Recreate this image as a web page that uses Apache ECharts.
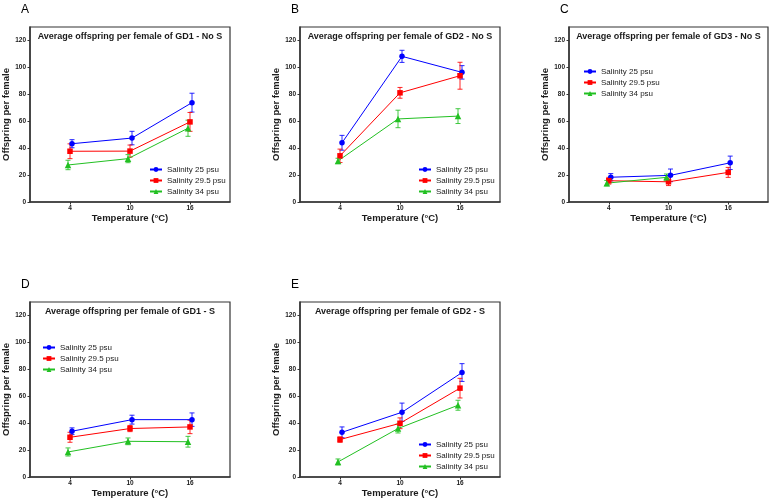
<!DOCTYPE html>
<html><head><meta charset="utf-8">
<script src="https://cdn.jsdelivr.net/npm/echarts@6/dist/echarts.min.js"></script>
<style>html,body{margin:0;padding:0;background:#fff}#c{width:772px;height:502px}</style>
</head><body><div id="c"></div>
<script>
// ---------- data ----------
const temperatures = [4, 10, 16];
const salinities = ['Salinity 25 psu', 'Salinity 29.5 psu', 'Salinity 34 psu'];
const panelLetters = ['A', 'B', 'C', 'D', 'E'];
const panelTitles = [
  'Average offspring per female of GD1 - No S',
  'Average offspring per female of GD2 - No S',
  'Average offspring per female of GD3 - No S',
  'Average offspring per female of GD1 - S',
  'Average offspring per female of GD2 - S'
];
const xTickValues = [4, 10, 16];
const yTickValues = [0, 20, 40, 60, 80, 100, 120];
const xAxisTitle = 'Temperature (°C)';
const yAxisTitle = 'Offspring per female';

// rows: salinity 25, 29.5, 34 psu ; columns: 4, 10, 16 °C
const meanA = [[43.3, 47.5, 73.8], [37.7, 37.8, 59.5], [27.5, 32.2, 54.8]];
const errA  = [[3, 5, 7], [5.5, 4.5, 7], [3.5, 3, 6]];
const meanB = [[44, 108.2, 96.3], [34.3, 81.1, 93.8], [30.5, 61.7, 63.8]];
const errB  = [[5.5, 4.5, 5], [5, 4, 10], [2, 6.5, 5.5]];
const meanC = [[18.4, 19.8, 29.1], [15.8, 15, 22], [14, 18.3, null]];
const errC  = [[2.7, 4.7, 5], [2.5, 2.8, 3.7], [2, 2.5, null]];
const meanD = [[34, 42.6, 42.6], [29.5, 36, 37.2], [18.6, 26.5, 26.2]];
const errD  = [[2.5, 3.3, 5], [3.7, 2.3, 5], [3, 2.5, 4]];
const meanE = [[33.2, 48.1, 77.6], [27.8, 39.9, 66], [11.2, 36, 53.3]];
const errE  = [[4, 6.8, 6.6], [2, 4, 7.3], [2.2, 3.3, 3.7]];

const means = [meanA, meanB, meanC, meanD, meanE];
const errs = [errA, errB, errC, errD, errE];

// ---------- layout & style ----------
const grids = [
  {left: 30, top: 27, width: 200, height: 175},
  {left: 300, top: 27, width: 200, height: 175},
  {left: 569, top: 27, width: 199, height: 175},
  {left: 30, top: 302, width: 200, height: 175},
  {left: 300, top: 302, width: 200, height: 175}
];
const legendPos = [
  {left: 149, top: 165},
  {left: 418, top: 165},
  {left: 583, top: 67},
  {left: 42, top: 343},
  {left: 418, top: 440}
];
const colors = ['#0000ff', '#ff0000', '#22c022'];
const symbols = ['circle', 'rect', 'triangle'];
const symbolSizes = [5.5, 5.5, 6.5];
const dodge = [0.2, 0, -0.2];
const FONT = '"Liberation Sans", Arial, sans-serif';
const axisColor = '#333';
const textColor = '#1a1a1a';

const option = {
  animation: false,
  backgroundColor: '#fff',
  textStyle: {fontFamily: FONT},
  grid: [], xAxis: [], yAxis: [], series: [], legend: [], title: []
};

grids.forEach((g, i) => {
  option.grid.push(Object.assign({show: true, borderColor: axisColor, borderWidth: 1.2, backgroundColor: 'transparent'}, g));
  option.title.push({
    text: panelLetters[i], left: g.left - 9, top: g.top - 23,
    textStyle: {fontFamily: FONT, fontSize: 12, fontWeight: 'normal', color: '#000'}, padding: 0
  });
  option.title.push({
    text: panelTitles[i], left: g.left + g.width / 2, top: g.top + 5, textAlign: 'center',
    textStyle: {fontFamily: FONT, fontSize: 9, fontWeight: 'bold', color: textColor}, padding: 0
  });
  option.xAxis.push({
    type: 'value', gridIndex: i, min: 0, max: 20,
    axisLine: {show: true, onZero: false, lineStyle: {color: axisColor, width: 1.5}},
    axisTick: {show: true, customValues: xTickValues, length: 2.5, lineStyle: {color: axisColor}},
    axisLabel: {customValues: xTickValues, fontFamily: FONT, fontSize: 6.5, fontWeight: 'bold', color: textColor, margin: 3},
    splitLine: {show: false},
    name: xAxisTitle, nameLocation: 'middle', nameGap: 11,
    nameTextStyle: {fontFamily: FONT, fontSize: 9.5, fontWeight: 'bold', color: textColor}
  });
  option.yAxis.push({
    type: 'value', gridIndex: i, min: 0, max: 130,
    axisLine: {show: true, onZero: false, lineStyle: {color: axisColor, width: 1.5}},
    axisTick: {show: true, customValues: yTickValues, length: 2.5, lineStyle: {color: axisColor}},
    axisLabel: {customValues: yTickValues, fontFamily: FONT, fontSize: 6.5, fontWeight: 'bold', color: textColor, margin: 4},
    splitLine: {show: false},
    name: yAxisTitle, nameLocation: 'middle', nameGap: 16,
    nameTextStyle: {fontFamily: FONT, fontSize: 9.5, fontWeight: 'bold', color: textColor}
  });
  option.legend.push({
    orient: 'vertical', left: legendPos[i].left, top: legendPos[i].top,
    padding: 0, itemGap: 2, itemWidth: 12, itemHeight: 6,
    textStyle: {fontFamily: FONT, fontSize: 8, color: textColor, lineHeight: 9},
    data: salinities.map(n => n + ' ')
  });

  salinities.forEach((name, s) => {
    const pts = [], bars = [];
    temperatures.forEach((t, k) => {
      const m = means[i][s][k];
      if (m == null) return;
      const e = errs[i][s][k];
      pts.push([t + dodge[s], m]);
      bars.push([t + dodge[s], m - e, m + e]);
    });
    option.series.push({
      type: 'custom', xAxisIndex: i, yAxisIndex: i, name: 'err' + s,
      encode: {x: 0, y: [1, 2]}, data: bars, z: 3, silent: true,
      renderItem: (params, api) => {
        const x = api.value(0);
        const lo = api.coord([x, api.value(1)]);
        const hi = api.coord([x, api.value(2)]);
        const w = 2.5;
        const style = {stroke: colors[s], lineWidth: 1, opacity: 0.85};
        return {type: 'group', children: [
          {type: 'line', shape: {x1: lo[0], y1: lo[1], x2: hi[0], y2: hi[1]}, style},
          {type: 'line', shape: {x1: lo[0] - w, y1: lo[1], x2: lo[0] + w, y2: lo[1]}, style},
          {type: 'line', shape: {x1: hi[0] - w, y1: hi[1], x2: hi[0] + w, y2: hi[1]}, style}
        ]};
      }
    });
    option.series.push({
      type: 'line', xAxisIndex: i, yAxisIndex: i, name: name + ' ',
      data: pts, symbol: symbols[s], symbolSize: symbolSizes[s], showSymbol: true,
      lineStyle: {color: colors[s], width: 1}, itemStyle: {color: colors[s]}, z: 4
    });
  });
});

const chart = echarts.init(document.getElementById('c'), null, {renderer: 'canvas'});
chart.setOption(option);
</script>
</body></html>
